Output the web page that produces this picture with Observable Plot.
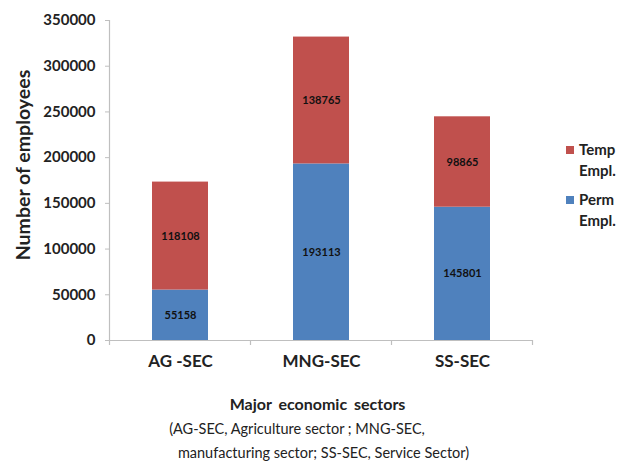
<!DOCTYPE html>
<html>
<head>
<meta charset="utf-8">
<script src="https://cdn.jsdelivr.net/npm/d3@7"></script>
<script src="https://cdn.jsdelivr.net/npm/@observablehq/plot@0.6"></script>
<style>
  html, body { margin: 0; padding: 0; background: #fff; }
  #chart svg { display: block; }
</style>
</head>
<body>
<div id="chart"></div>
<script>
// Employment by major economic sector, split by contract type
const sectors = ["AG -SEC", "MNG-SEC", "SS-SEC"];
const permanent = [55158, 193113, 145801];
const temporary = [118108, 138765, 98865];
const seriesNames = ["Perm Empl.", "Temp Empl."];
const seriesColors = ["#4F81BD", "#C0504D"];
const yTicks = [0, 50000, 100000, 150000, 200000, 250000, 300000, 350000];
const yTitle = "Number of employees";
const xTitle = "Major economic sectors";
const captionLines = [
  "(AG-SEC, Agriculture sector ; MNG-SEC,",
  "manufacturing sector; SS-SEC, Service Sector)"
];

const rows = [
  ...sectors.map((s, i) => ({sector: s, type: seriesNames[0], value: permanent[i]})),
  ...sectors.map((s, i) => ({sector: s, type: seriesNames[1], value: temporary[i]}))
];

const ink = "#222";
const axisGray = "#bfbfbf";
const font = "Lato, 'Open Sans', sans-serif";

const plot = Plot.plot({
  width: 618,
  height: 465,
  marginLeft: 110,
  marginRight: 85,
  marginTop: 20,
  marginBottom: 125,
  style: {fontFamily: font, background: "#fff", overflow: "hidden"},
  x: {domain: sectors, paddingInner: 0.6, paddingOuter: 0.3, axis: null},
  y: {domain: [0, 350000], axis: null},
  color: {domain: seriesNames, range: seriesColors},
  marks: [
    Plot.barY(rows, {x: "sector", y: "value", fill: "type", order: seriesNames}),
    Plot.text(rows, Plot.stackY({
      x: "sector", y: "value", z: "type", order: seriesNames,
      text: d => String(d.value), fontSize: 11, fontWeight: "bold", fill: "#111"
    })),
    Plot.ruleY([0], {stroke: axisGray, strokeWidth: 1.2}),
    // y tick marks
    Plot.axisY({ticks: yTicks, tickSize: 5, color: axisGray, tickFormat: () => "", label: null}),
    // y tick labels
    Plot.axisY({ticks: yTicks, tickSize: 0, tickPadding: 15, fontSize: 15, fontWeight: "bold",
      color: ink, tickFormat: d => String(d), label: null}),
    // category labels
    Plot.text(sectors, {x: d => d, frameAnchor: "bottom", dy: 26,
      fontSize: 17, fontWeight: "bold", fill: ink}),
    // x title and caption
    Plot.text([xTitle], {frameAnchor: "bottom", dx: -4.5, dy: 69,
      fontSize: 16, fontWeight: "bold", fill: ink}),
    Plot.text([captionLines[0]], {frameAnchor: "bottom", dx: -25, dy: 93, fontSize: 14.5, fill: ink}),
    Plot.text([captionLines[1]], {frameAnchor: "bottom", dx: 1.5, dy: 117, fontSize: 14.5, fill: ink})
  ]
});

document.getElementById("chart").append(plot);

const svg = d3.select(plot);
const xs = plot.scale("x");
const ys = plot.scale("y");
const y0 = ys.apply(0);
const yTop = ys.apply(350000);

// wider word gaps in the axis title
svg.selectAll("text").filter(function () { return this.textContent === xTitle; })
  .attr("word-spacing", "3px");

// rotated y title, centred on the y axis span
svg.append("text")
  .attr("transform", `translate(23, ${(y0 + yTop) / 2 - 15}) rotate(-90)`)
  .attr("text-anchor", "middle").attr("dy", "0.35em")
  .attr("font-family", font).attr("font-size", 19.5).attr("font-weight", "bold")
  .attr("fill", ink).text(yTitle);

// y axis line and category boundary ticks, from the plot's own scales
const gap = (xs.step - xs.bandwidth) / 2;
const bounds = sectors.map(s => xs.apply(s) - gap)
  .concat([xs.apply(sectors[sectors.length - 1]) + xs.bandwidth + gap]);
const g = svg.append("g").attr("stroke", axisGray).attr("stroke-width", 1.2);
g.append("line").attr("x1", bounds[0]).attr("x2", bounds[0]).attr("y1", yTop).attr("y2", y0);
bounds.forEach(b => g.append("line").attr("x1", b).attr("x2", b).attr("y1", y0).attr("y2", y0 + 5));

// legend (top entry = top of stack)
const legend = svg.append("g").attr("font-family", font).attr("text-anchor", "start")
  .attr("font-size", 15).attr("font-weight", "bold").attr("fill", ink);
const entries = [
  {name: seriesNames[1], color: seriesColors[1], y: 150},
  {name: seriesNames[0], color: seriesColors[0], y: 200}
];
entries.forEach(e => {
  legend.append("rect").attr("x", 566).attr("y", e.y - 4).attr("width", 8).attr("height", 8).attr("fill", e.color);
  e.name.split(" ").forEach((p, i) => {
    legend.append("text").attr("x", 579).attr("y", e.y + i * 21).attr("dy", "0.35em").text(p);
  });
});
</script>
</body>
</html>
